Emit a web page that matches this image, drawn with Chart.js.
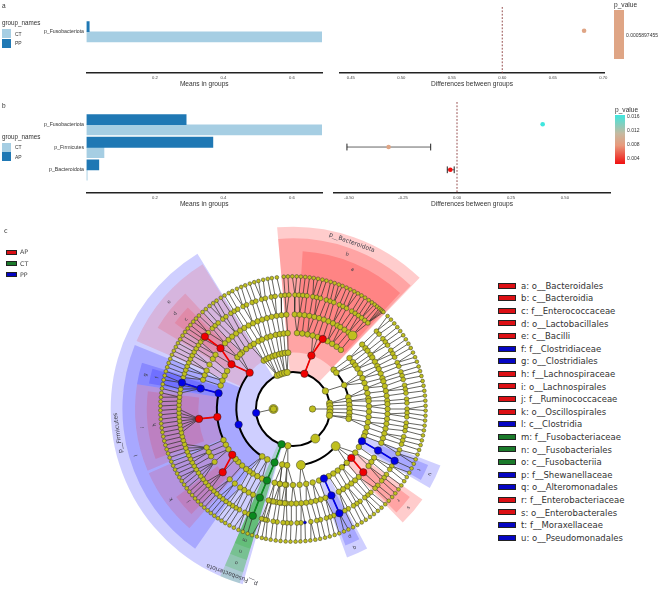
<!DOCTYPE html>
<html>
<head>
<meta charset="utf-8">
<title>LEfSe</title>
<script src="https://cdn.jsdelivr.net/npm/chart.js@4.4.1/dist/chart.umd.min.js"></script>
<style>
html, body { margin: 0; padding: 0; background: #fff; overflow: hidden; }
body { width: 661px; height: 594px; position: relative; font-family: "Liberation Sans", sans-serif; color: #333; }
canvas { position: absolute; }
.txt { position: absolute; white-space: pre; line-height: 1; transform: translateY(-50%); }
.box { position: absolute; box-sizing: border-box; }
</style>
</head>
<body>
<script>
// Panel a
const aCategories = ['p_Fusobacteriota'];
const aMeansCT = [0.688];
const aMeansPP = [0.008];
const aDiff = [0.681];
// Panel b
const bCategories = ['p_Fusobacteriota', 'p_Firmicutes', 'p_Bacteroidota'];
const bMeansCT = [0.689, 0.051, 0.002];
const bMeansAP = [0.291, 0.369, 0.036];
const bDiff = [0.397, -0.317, -0.031];
const bDiffLow = [0.397, -0.51, -0.045];
const bDiffHigh = [0.397, -0.122, -0.013];
const bDiffColors = ['#3fe6de', '#dfa585', '#f01010'];
// Tick labels
const meansTicks = [0.2, 0.4, 0.6];
const aDiffTicks = [0.45, 0.5, 0.55, 0.6, 0.65, 0.7];
const bDiffTicks = [-0.5, -0.25, 0, 0.25, 0.5];
const aPLabels = ['0.0005897455'];
const bPLabels = ['0.016', '0.012', '0.008', '0.004'];

// Cladogram: node angles per ring, degrees clockwise from the top
const ring20 = [-90, 90];
const ring38 = [-25, -21, -17, -13, -9, 61, 81, 85, 90, 95, 100, 143, 188];
const ring58 = [-31, -28, -25, -21, -18, -14, -11, -8, -5, 46, 50, 65, 78, 82, 86, 90, 94, 98, 100, 131, 172, -147, -153, -169, -174];
const ring78 = [-42, -38, -34, -31, -27, -24, -20, -17, -13, -10, -7, -4, 3, 7, 11, 15, 19, 27, 31, 35, 39, 48, 52, 55, 58, 62, 66, 70, 74, 78, 82, 84, 88, 92, 96, 100, 104, 108, 111, 120, 125, 135, 140, 144, 148, 152, 160, 165, 170, 175, 180, 185, 190, -174, -170, -166, -156, -152, -148, -145, -142, -138, -134, -131, -122, -118, -114, -72, -68, -64, -60, -47, -44];
const ring97 = [-43, -40, -37, -34, -31, -28, -25, -22, -19, -16, -13, -10, -7, -4, 1, 4, 7, 10, 13, 16, 19, 22, 25, 28, 30, 33, 36, 39, 47, 50, 52, 55, 57, 60, 63, 65, 68, 71, 73, 76, 79, 82, 85, 87, 90, 93, 96, 99, 102, 105, 108, 111, 121, 124, 127, 136, 139, 142, 145, 148, 151, 160, 163, 166, 169, 172, 175, 178, 181, 184, 187, 190, 193, -175, -172, -168, -165, -155, -152, -149, -146, -142, -138, -124, -120, -117, -114, -72, -69, -66, -62, -58, -55, -46];
const ring117 = [-45, -43, -41, -38, -36, -33, -31, -29, -26, -24, -21, -19, -16, -14, -11, -9, -6, -4, -2, 1, 3, 5, 7, 10, 12, 14, 17, 19, 21, 24, 26, 28, 31, 33, 35, 37, 39, 41, 47, 49, 52, 54, 56, 59, 61, 63, 66, 68, 71, 73, 75, 78, 80, 82, 85, 87, 90, 92, 94, 97, 99, 101, 104, 106, 108, 111, 113, 120, 122, 125, 127, 129, 132, 134, 137, 139, 141, 144, 146, 148, 151, 153, 159, 161, 163, 166, 168, 171, 176, 178, 181, 183, 185, 188, 190, 193, 195, -166, -164, -157, -155, -152, -150, -148, -146, -144, -142, -140, -138, -136, -134, -132, -130, -128, -126, -124, -122, -120, -118, -116, -114, -112, -110, -108, -106, -104, -102, -100, -98, -96, -94, -92, -90, -88, -86, -84, -82, -80, -78, -74, -72, -70, -68, -66, -64, -62, -60, -58, -56, -54, -52, -48];
const ring136 = [-45.2, -43, -41.1, -39, -37, -35.2, -33, -31.1, -29, -27.2, -25, -23, -21.1, -19, -17, -15.1, -13, -11, -9.2, -7, -4, -2.2, -0.3, 1.6, 3.4, 5.3, 7.2, 9, 10.9, 12.8, 14.6, 16.5, 18.3, 20.2, 21.9, 23.8, 25.6, 27.5, 29.3, 31.1, 32.9, 34.8, 36.5, 38, 39.4, 40.6, 41.5, 42.3, 43, 45.5, 47.6, 49.8, 51.9, 54, 56.2, 58.3, 60.5, 62.6, 64.8, 67, 69.1, 71.3, 73.4, 75.6, 77.8, 79.9, 82.1, 84.2, 86.4, 88.6, 90.7, 92.9, 95, 97.2, 99.3, 101.5, 103.7, 105.8, 108, 110.1, 112.3, 114.4, 116.6, 118.7, 120.9, 123, 125.2, 127.3, 129.5, 131.6, 133.8, 135.9, 138.1, 140.2, 142.4, 144.5, 146.7, 148.8, 151, 153.1, 155.3, 157.4, 159.6, 161.7, 163.9, 166, 168.2, 170.3, 172.5, 174.6, 176.8, 178.9, 181.1, 183.2, 185.4, 187.5, 189.7, 191.8, 193.6, -164.2, -162, -160, -157.8, -155.7, -153.5, -151.4, -149.3, -147.4, -145.5, -143.6, -141.7, -139.9, -138, -136.1, -134.2, -132.4, -130.5, -128.6, -126.7, -124.8, -122.9, -121, -119.1, -117.2, -115.3, -113.4, -111.5, -109.6, -107.7, -105.8, -103.9, -102, -100.1, -98.2, -96.3, -94.4, -92.5, -90.6, -88.7, -86.8, -84.9, -83, -81.1, -79.2, -77.3, -75.4, -73.5, -71.6, -69.7, -67.8, -65.9, -64, -62.1, -60.2, -58.3, -56.4, -54.5, -52.6, -50.7, -48.8, -47];
// Yellow nodes that stand out in size
const bigTheta = [-90, 143, 131, 172, 39];
const bigRing = [20, 38, 58, 58, 97];

// Biomarker nodes
const markerTheta = [18, 19, 23, -50, -54, -50, -50.6, -96, -96, -127, -132, 130, 132, -96, -106, -78, -77.5, -76.7, 115, 116, 117, 156, 156, 156, -162, -161, -160, -159.5, -159.4, 174];
const markerRing = [38, 58, 78, 58, 78, 97, 117, 78, 97, 78, 97, 78, 97, 38, 58, 78, 97, 117, 78, 97, 117, 78, 97, 117, 38, 58, 78, 97, 117, 117];
const markerGroup = ['AP', 'AP', 'AP', 'AP', 'AP', 'AP', 'AP', 'AP', 'AP', 'AP', 'AP', 'AP', 'AP', 'PP', 'PP', 'PP', 'PP', 'PP', 'PP', 'PP', 'PP', 'PP', 'PP', 'PP', 'CT', 'CT', 'CT', 'CT', 'CT', 'PP'];

// Shaded clades
const cladeName = ['p__Bacteroidota', 'b', 'a', 'p__Firmicutes', 'e', 'd', 'c', 'l', 'g', 'f', 'i', 'h', 'k', 'j', 'p__Fusobacteriota', 'o', 'n', 'm', 'q', 'p', 's', 'r', 'u', 't'];
const cladeStart = [-5, -5, 3.5, -164, -66.5, -59, -54, -145, -81, -80, -113, -110, -139, -136, -163, -163, -163, -163, 152, 153, 125, 127, 111, 112.5];
const cladeEnd = [44, 43.6, 42.7, -31.6, -32, -43, -46, -68, -73, -74, -81, -83, -114, -127, -156.5, -156.5, -156.5, -156.5, 160, 159, 136, 135, 120, 119];
const cladeLevel = [1, 2, 3, 1, 2, 3, 4, 2, 3, 4, 3, 4, 3, 4, 1, 2, 3, 4, 3, 4, 3, 4, 3, 4];
const cladeGroup = ['AP', 'AP', 'AP', 'PP', 'AP', 'AP', 'AP', 'PP', 'PP', 'PP', 'AP', 'AP', 'AP', 'AP', 'CT', 'CT', 'CT', 'CT', 'PP', 'PP', 'AP', 'AP', 'PP', 'PP'];
const cladeOverBlue = ['e', 'd', 'c', 'i', 'h', 'k', 'j'];

// Thick branch arcs: ring, from, to
const arcRing = [38, 58, 58, 58, 78, 78, 78, 78];
const arcFrom = [-180, -147, 46, 131, 3, 60, 130, -118];
const arcTo = [180, -50, 100, 172, 23, 85, 156, -78];

// Taxa legend
const legendTaxa = ['a: o__Bacteroidales', 'b: c__Bacteroidia', 'c: f__Enterococcaceae', 'd: o__Lactobacillales', 'e: c__Bacilli', 'f: f__Clostridiaceae', 'g: o__Clostridiales', 'h: f__Lachnospiraceae', 'i: o__Lachnospirales', 'j: f__Ruminococcaceae', 'k: o__Oscillospirales', 'l: c__Clostridia', 'm: f__Fusobacteriaceae', 'n: o__Fusobacteriales', 'o: c__Fusobacteriia', 'p: f__Shewanellaceae', 'q: o__Alteromonadales', 'r: f__Enterobacteriaceae', 's: o__Enterobacterales', 't: f__Moraxellaceae', 'u: o__Pseudomonadales'];
const legendTaxaGroup = ['AP', 'AP', 'AP', 'AP', 'AP', 'PP', 'PP', 'AP', 'AP', 'AP', 'AP', 'PP', 'CT', 'CT', 'CT', 'PP', 'PP', 'AP', 'AP', 'PP', 'PP'];
const legendGroups = ['AP', 'CT', 'PP'];

// styles
const groupColor = { AP: '#f00000', CT: '#0a8a1e', PP: '#0000e6' };
const legendColor = { AP: '#dc0f14', CT: '#1a7a2a', PP: '#0505c4' };
const groupFill = { AP: 'rgba(255,0,0,0.2)', APblue: 'rgba(255,0,0,0.13)', CT: 'rgba(0,170,0,0.17)', PP: 'rgba(0,0,255,0.19)' };
const levelInner = { 1: 38, 2: 58, 3: 78, 4: 97 };
const levelOuter = { 1: 187, 2: 175, 3: 162, 4: 150 };
const levelText = { 1: 181, 2: 168, 3: 155.5, 4: 143 };
const lightBar = '#a6cee3', darkBar = '#1f78b4', yellow = '#bfbf1e', edge = '#3a3a2a';
const sans = '"Liberation Sans", sans-serif', deja = '"DejaVu Sans", sans-serif';

Chart.defaults.animation = false;
Chart.defaults.responsive = false;
Chart.defaults.plugins.legend.display = false;
Chart.defaults.plugins.tooltip.enabled = false;
Chart.defaults.font.family = sans;

function addCanvas(left, top, width, height) {
    const c = document.createElement('canvas');
    c.width = width;
    c.height = height;
    c.style.left = left + 'px';
    c.style.top = top + 'px';
    c.style.width = width + 'px';
    c.style.height = height + 'px';
    document.body.appendChild(c);
    return c;
}

function addText(text, x, y, size, font, color) {
    const s = document.createElement('span');
    s.className = 'txt';
    s.textContent = text;
    s.style.left = x + 'px';
    s.style.top = y + 'px';
    s.style.fontSize = size + 'px';
    if (font) s.style.fontFamily = font;
    if (color) s.style.color = color;
    document.body.appendChild(s);
}

function addBox(x, y, w, h, background, border) {
    const b = document.createElement('div');
    b.className = 'box';
    b.style.left = x + 'px';
    b.style.top = y + 'px';
    b.style.width = w + 'px';
    b.style.height = h + 'px';
    b.style.background = background;
    if (border) b.style.border = border;
    document.body.appendChild(b);
}

// bottom x axis shared by the four small charts
function bottomAxis(title, min, max, values, digits) {
    return {
        type: 'linear', min: min, max: max,
        afterBuildTicks: axis => { axis.ticks = values.map(v => ({ value: v })); },
        afterFit: axis => { axis.height = 17; axis.paddingLeft = 0; axis.paddingRight = 0; },
        grid: { display: false, drawTicks: false },
        border: { display: true, color: '#222', width: 1.4 },
        ticks: { autoSkip: false, maxRotation: 0, padding: 2, color: '#444', font: { size: 4.2 }, callback: v => v.toFixed(digits) },
        title: { display: true, text: title, color: '#333', font: { size: 6.6 }, padding: { top: 1, bottom: 1.5 } }
    };
}

function meansChart(top, height, categories, first, second, yMin, yMax, firstColor, secondColor) {
    // y axis position follows the category index
    new Chart(addCanvas(0, top, 332, height), {
        type: 'bar',
        data: {
            datasets: [
                { data: first.map((v, i) => ({ x: v, y: i })), backgroundColor: firstColor, barThickness: 10.2 },
                { data: second.map((v, i) => ({ x: v, y: i })), backgroundColor: secondColor, barThickness: 10.2 }
            ]
        },
        options: {
            indexAxis: 'y',
            layout: { padding: { left: 0, right: 10, top: 0, bottom: 0 } },
            scales: {
                x: bottomAxis('Means in groups', 0, 0.6876, meansTicks, 1),
                y: {
                    type: 'linear', reverse: true, offset: false, min: yMin, max: yMax,
                    afterBuildTicks: axis => { axis.ticks = categories.map((c, i) => ({ value: i })); },
                    afterFit: axis => { axis.width = 86.5; },
                    grid: { display: false, drawTicks: false },
                    border: { display: false },
                    ticks: { autoSkip: false, padding: 2.5, color: '#333', font: { size: 5.2 }, callback: v => categories[v] }
                }
            }
        }
    });
}

function diffChart(left, width, top, height, values, low, high, colors, xMin, xMax, yMin, yMax, tickValues, digits) {
    const datasets = [{
        data: [{ x: 0, y: yMin }, { x: 0, y: yMax }], showLine: true, pointRadius: 0,
        borderColor: '#8a3a3a', borderWidth: 0.9, borderDash: [1.8, 1.6], order: 3
    }];
    if (xMin > 0) { datasets[0].data = [{ x: 0.6, y: yMin }, { x: 0.6, y: yMax }]; }
    low.forEach((v, i) => {
        if (v === high[i]) return;
        datasets.push({
            data: [{ x: v, y: i }, { x: high[i], y: i }], showLine: true, borderColor: '#555', borderWidth: 0.9,
            pointStyle: 'line', rotation: 90, pointRadius: 3.4, pointBorderColor: '#222', pointBorderWidth: 1, order: 2
        });
    });
    datasets.push({
        data: values.map((v, i) => ({ x: v, y: i })), pointRadius: 2.3, pointBackgroundColor: colors, pointBorderWidth: 0, order: 1
    });
    new Chart(addCanvas(left - 10, top, width + 20, height), {
        type: 'scatter',
        data: { datasets: datasets },
        options: {
            layout: { padding: { left: 10, right: 10, top: 0, bottom: 0 } },
            scales: {
                x: bottomAxis('Differences between groups', xMin, xMax, tickValues, 2),
                y: { type: 'linear', reverse: true, min: yMin, max: yMax, display: false }
            }
        }
    });
}

// panel a: plot runs from y=9 to y=73, category centre at 32 (canvas starts 6px higher, layout eats that)
meansChart(3, 87, aCategories, aMeansPP, aMeansCT, -1.02, 1.82, darkBar, lightBar);
diffChart(340, 264, 3, 87, aDiff, aDiff, aDiff, ['#dfa585'], 0.4394, 0.7007, -1.02, 1.82, aDiffTicks, 2);
// panel b: plot runs from y=103 to y=193
meansChart(97, 113, bCategories, bMeansAP, bMeansCT, -0.98, 3.02, darkBar, lightBar);
diffChart(334, 276, 97, 113, bDiff, bDiffLow, bDiffHigh, bDiffColors, -0.57, 0.709, -0.98, 3.02, bDiffTicks, 2);

// small legends of panels a and b
addText('a', 2, 6, 6.5);
addText('b', 2, 105.5, 6.5);
addText('c', 4, 231, 6.5, deja);
addText('group_names', 2, 23, 6.3);
addBox(2, 28.5, 9.2, 9.2, lightBar);
addBox(2, 38.5, 9.2, 9.2, darkBar);
addText('CT', 15, 33.5, 5);
addText('PP', 15, 43, 5);
addText('group_names', 2, 136.5, 6.3);
addBox(2, 142.5, 9.2, 9.2, lightBar);
addBox(2, 152.3, 9.2, 9.2, darkBar);
addText('CT', 15, 147, 5);
addText('AP', 15, 157, 5);
addText('p_value', 614, 5, 6.6);
addBox(614, 10.3, 10, 48.7, '#dfa585');
addText(aPLabels[0], 626, 35, 5);
addText('p_value', 615, 109.5, 6.6);
addBox(615, 115, 10, 49, 'linear-gradient(#3fe6de, #c6b9a0 38%, #e89a7c 62%, #f01010)');
bPLabels.forEach((t, i) => addText(t, 627, 116 + i * 13.9, 5));

// group legend of panel c
legendGroups.forEach((g, i) => {
    addBox(6, 249.8 + i * 11.3, 11, 4.8, legendColor[g], '1px solid #222');
    addText(g, 20, 252.3 + i * 11.3, 6.3, deja, '#444');
});
// taxa legend
legendTaxa.forEach((t, i) => {
    addBox(497.5, 282.6 + i * 12.6, 18.2, 6, legendColor[legendTaxaGroup[i]], '1px solid #222');
    addText(t, 521, 285.8 + i * 12.6, 8.5, deja, '#333');
});

// ---- cladogram ----
function polar(theta, r) {
    const a = theta * Math.PI / 180;
    return { x: r * Math.sin(a), y: r * Math.cos(a) };
}

const ringList = [[20, ring20], [38, ring38], [58, ring58], [78, ring78], [97, ring97], [117, ring117], [136, ring136]];
// every ring with the biomarkers merged in
const allNodes = {};
ringList.forEach(([r, list]) => { allNodes[r] = list.slice(); });
markerTheta.forEach((t, i) => allNodes[markerRing[i]].push(t));

function angleGap(a, b) {
    const d = Math.abs(a - b) % 360;
    return d > 180 ? 360 - d : d;
}
function nearestOf(theta, list) {
    let best = list[0];
    list.forEach(v => { if (angleGap(v, theta) < angleGap(best, theta)) best = v; });
    return best;
}

// branch segments, split with NaN so the line breaks between them
const branchPoints = [];
const gap = { x: NaN, y: NaN };
for (let k = 2; k < ringList.length; k++) {
    const r = ringList[k][0], prev = ringList[k - 1][0];
    allNodes[r].forEach(t => {
        const p = nearestOf(t, allNodes[prev]);
        if (angleGap(p, t) > 6) return;
        branchPoints.push(polar(t, r), polar(p, prev), gap);
    });
}
ring20.forEach(t => branchPoints.push(polar(t, 20), polar(nearestOf(t, allNodes[38]), 38), gap));

// thick branches joining biomarkers of the same group
const markerBranches = { AP: [], PP: [], CT: [] };
markerTheta.forEach((t, i) => {
    markerTheta.forEach((u, j) => {
        if (markerGroup[i] !== markerGroup[j]) return;
        if (ringList.findIndex(x => x[0] === markerRing[i]) !== ringList.findIndex(x => x[0] === markerRing[j]) + 1) return;
        if (angleGap(t, u) > 8) return;
        markerBranches[markerGroup[i]].push(polar(t, markerRing[i]), polar(u, markerRing[j]), gap);
    });
});

const cladePlugin = {
    id: 'cladeShades',
    beforeDatasetsDraw(chart) {
        const ctx = chart.ctx, sx = chart.scales.x, sy = chart.scales.y;
        const cx = sx.getPixelForValue(0), cy = sy.getPixelForValue(0);
        const rad = r => Math.abs(sx.getPixelForValue(r) - cx);
        const toCanvas = t => (t - 90) * Math.PI / 180;
        ctx.save();
        cladeName.forEach((n, i) => {
            const lv = cladeLevel[i];
            ctx.beginPath();
            ctx.arc(cx, cy, rad(levelOuter[lv]), toCanvas(cladeStart[i]), toCanvas(cladeEnd[i]));
            ctx.arc(cx, cy, rad(levelInner[lv]), toCanvas(cladeEnd[i]), toCanvas(cladeStart[i]), true);
            ctx.closePath();
            ctx.fillStyle = cladeOverBlue.includes(n) ? groupFill.APblue : groupFill[cladeGroup[i]];
            ctx.fill();
        });
        ctx.strokeStyle = '#000';
        ctx.lineWidth = 2;
        arcRing.forEach((r, i) => {
            ctx.beginPath();
            ctx.arc(cx, cy, rad(r), toCanvas(arcFrom[i]), toCanvas(arcTo[i]));
            ctx.stroke();
        });
        ctx.restore();
    },
    afterDatasetsDraw(chart) {
        const ctx = chart.ctx, sx = chart.scales.x, sy = chart.scales.y;
        ctx.save();
        ctx.fillStyle = '#3c3c46';
        ctx.textAlign = 'center';
        ctx.textBaseline = 'middle';
        cladeName.forEach((n, i) => {
            const mid = (cladeStart[i] + cladeEnd[i]) / 2;
            const p = polar(mid, levelText[cladeLevel[i]]);
            ctx.save();
            ctx.translate(sx.getPixelForValue(p.x), sy.getPixelForValue(p.y));
            ctx.rotate(mid * Math.PI / 180);
            ctx.font = (n.length > 1 ? 6 : 5) + 'px ' + deja;
            ctx.fillText(n, 0, 0);
            ctx.restore();
        });
        ctx.restore();
    }
};

function nodeSet(list, r, size, order) {
    return {
        data: list.map(t => polar(t, r)), pointRadius: size, pointBackgroundColor: yellow,
        pointBorderColor: edge, pointBorderWidth: 0.5, order: order
    };
}

const cladoSets = [
    { data: branchPoints, showLine: true, pointRadius: 0, borderColor: '#33332c', borderWidth: 0.75, order: 20 },
    nodeSet(ring136, 136, 1.9, 9),
    nodeSet(ring117, 117, 2.4, 8),
    nodeSet(ring97, 97, 2.7, 7),
    nodeSet(ring78, 78, 2.8, 6),
    nodeSet(ring58, 58, 2.9, 5),
    nodeSet(ring38, 38, 3.2, 4),
    nodeSet(ring20, 20, 3.2, 3),
    {
        data: bigTheta.map((t, i) => polar(t, bigRing[i])), pointRadius: 4.5, pointBackgroundColor: yellow,
        pointBorderColor: edge, pointBorderWidth: 0.5, order: 3
    }
];
Object.keys(markerBranches).forEach(g => {
    cladoSets.push({ data: markerBranches[g], showLine: true, pointRadius: 0, borderColor: groupColor[g], borderWidth: 1.7, order: 2 });
});
cladoSets.push({
    data: markerTheta.map((t, i) => polar(t, markerRing[i])),
    pointRadius: markerTheta.map((t, i) => i === markerTheta.length - 1 ? 1.5 : 3.7),
    pointBackgroundColor: markerGroup.map(g => groupColor[g]),
    pointBorderColor: '#222', pointBorderWidth: 0.5, order: 1
});

// plot centre sits at page position (293, 409)
new Chart(addCanvas(93, 209, 400, 400), {
    type: 'scatter',
    data: { datasets: cladoSets },
    plugins: [cladePlugin],
    options: {
        layout: { padding: 0 },
        scales: {
            x: { type: 'linear', min: -200, max: 200, display: false },
            y: { type: 'linear', min: -200, max: 200, display: false }
        }
    }
});
</script>
</body>
</html>
